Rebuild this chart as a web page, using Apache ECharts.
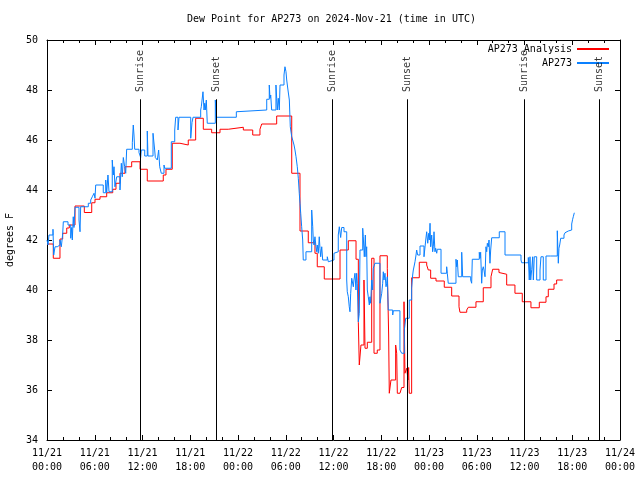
<!DOCTYPE html>
<html><head><meta charset="utf-8">
<script src="https://cdn.jsdelivr.net/npm/echarts@6/dist/echarts.min.js"></script>
<style>html,body{margin:0;padding:0;background:#fff}#c{width:640px;height:480px}</style>
</head><body><div id="c"></div>
<script>
// hours since 2024-11-21 00:00 UTC
const xTickLabels = ['11/21\n00:00','11/21\n06:00','11/21\n12:00','11/21\n18:00','11/22\n00:00','11/22\n06:00','11/22\n12:00','11/22\n18:00','11/23\n00:00','11/23\n06:00','11/23\n12:00','11/23\n18:00','11/24\n00:00'];
const sunEventHours = [11.69, 21.24, 35.85, 45.27, 59.97, 69.36];
const sunEventNames = ['Sunrise','Sunset','Sunrise','Sunset','Sunrise','Sunset'];

const analysisHours = [0.00,0.79,1.63,1.97,2.48,2.80,3.52,4.69,5.62,6.03,6.66,7.50,8.26,8.67,9.17,9.80,10.64,11.69,12.60,14.61,14.95,15.74,16.71,17.75,18.68,19.64,20.69,21.74,22.78,24.67,25.85,26.76,26.98,28.86,30.75,31.79,32.83,33.67,33.96,34.84,36.82,37.86,38.83,39.12,39.24,39.45,39.83,39.96,40.25,40.80,41.09,41.50,41.84,42.76,42.93,43.01,43.22,43.81,43.94,44.02,44.35,44.57,44.86,44.98,45.20,45.36,45.44,45.52,45.82,46.78,47.71,47.91,48.21,48.88,49.92,50.85,51.77,51.89,52.74,52.94,53.90,54.82,55.79,56.00,56.79,56.92,57.76,58.80,59.72,60.81,61.86,62.70,62.99,63.71,64.04,64.80];
const analysisValues = [41.84,41.27,42.04,42.27,42.48,42.6,43.36,43.1,43.49,43.63,43.73,43.89,44.03,44.27,44.67,44.93,45.13,44.83,44.36,44.6,44.83,45.87,45.8,46.0,46.87,46.43,46.29,46.43,46.51,46.4,46.2,46.43,46.64,46.96,44.67,42.36,41.89,41.47,40.93,40.44,41.6,41.97,41.23,38.69,37.0,37.8,40.4,37.67,37.91,41.27,37.47,37.6,41.37,40.87,38.2,35.87,36.4,37.8,37.47,35.87,35.93,36.1,39.53,36.67,36.87,36.4,36.9,35.87,40.49,41.11,41.0,40.8,40.47,40.36,40.11,39.76,39.33,39.11,39.2,39.31,39.53,40.09,40.53,40.83,40.7,40.63,40.2,39.87,39.53,39.29,39.51,39.73,40.03,40.24,40.4,40.4];

const stationHours = [0.00,0.13,0.25,0.75,0.84,1.01,1.29,1.63,1.80,1.97,2.05,2.64,2.98,3.10,3.18,3.30,3.39,3.52,4.02,4.15,4.23,5.19,5.49,5.69,5.91,6.03,6.12,7.07,7.38,7.50,7.66,7.79,8.20,8.33,8.42,8.54,8.76,9.17,9.34,9.46,9.59,9.76,9.89,10.01,10.72,10.84,10.93,11.02,11.56,11.77,11.85,12.28,12.60,12.69,13.32,13.53,13.61,13.86,14.03,14.16,14.36,14.70,14.79,15.62,16.05,16.17,16.46,16.59,18.06,18.22,18.35,19.31,19.39,19.60,19.73,19.82,19.89,20.02,20.14,21.15,21.27,23.79,24.00,27.61,27.93,28.02,28.11,28.23,28.77,28.86,28.94,29.06,29.19,29.28,29.78,29.90,30.03,30.12,30.28,30.45,30.57,30.75,30.87,31.04,31.16,31.29,31.45,31.58,31.70,31.79,31.88,32.00,32.13,32.20,32.54,33.26,33.39,33.46,33.55,33.67,33.80,33.89,33.96,34.09,34.21,34.30,34.39,34.52,34.64,35.22,35.35,35.56,36.06,36.19,36.60,36.73,36.90,37.03,37.32,37.66,37.73,37.86,37.98,38.07,38.16,38.29,38.49,38.57,38.70,38.82,38.91,38.99,39.12,39.24,39.33,39.67,39.74,39.87,40.00,40.08,40.17,40.25,40.37,40.50,40.58,40.67,40.80,40.92,41.00,41.21,41.84,42.06,42.18,42.26,42.34,42.47,42.60,42.68,42.76,42.88,43.44,43.51,44.35,44.57,44.90,45.07,45.52,45.82,45.95,46.03,46.16,46.24,46.37,46.45,46.58,46.87,47.37,47.46,47.59,47.71,47.84,47.97,48.04,48.13,48.21,48.34,48.46,48.54,48.63,48.75,48.84,48.97,49.04,49.51,50.22,50.30,50.42,51.39,51.48,51.56,51.68,52.11,52.23,53.24,53.36,53.44,54.32,54.41,54.49,54.62,54.70,54.82,54.91,55.04,55.16,55.25,55.33,55.45,55.54,55.66,55.75,55.88,56.83,57.55,59.56,59.65,60.48,60.60,60.69,60.78,60.91,61.03,61.11,61.23,61.53,61.95,62.07,62.36,62.70,63.29,63.42,64.12,64.25,64.33,64.42,64.55,64.96,65.09,65.30,65.50,65.93,66.05,66.13,66.26,66.34];
const stationValues = [42.0,41.8,42.2,42.43,41.4,41.73,41.8,42.0,41.73,42.24,42.73,42.6,42.07,42.5,42.0,42.93,42.5,43.31,42.8,42.33,43.33,43.47,43.6,43.73,43.87,43.67,44.2,43.89,44.4,43.89,44.6,43.93,45.2,44.6,44.93,44.13,44.53,44.0,45.07,44.53,45.3,44.93,44.67,45.63,45.89,46.6,46.2,45.63,45.5,45.3,45.6,45.36,46.36,45.36,46.27,45.6,45.3,45.2,45.6,44.93,44.67,45.0,44.87,45.93,46.4,46.91,46.4,46.91,46.07,46.7,46.91,47.2,47.33,47.93,47.2,47.47,47.2,47.6,46.67,47.6,46.91,47.13,47.2,47.63,48.2,47.67,47.8,47.2,48.2,47.67,47.2,47.67,47.2,48.2,48.6,48.93,48.73,48.4,48.0,47.6,46.53,46.13,46.0,45.8,45.6,45.33,44.93,44.47,43.87,43.47,43.07,42.53,42.0,41.2,41.53,43.2,42.53,42.0,41.8,42.13,41.73,41.53,41.8,41.47,42.13,41.67,41.33,41.73,41.2,41.33,41.13,41.2,41.47,41.53,42.2,42.53,42.1,42.5,42.33,40.4,39.93,39.73,39.33,39.13,39.87,40.47,40.13,40.4,40.67,40.0,40.67,40.27,38.73,39.07,41.6,42.47,42.13,41.33,42.2,41.33,41.73,40.0,39.73,39.4,39.73,39.47,40.4,40.0,40.87,41.07,39.47,39.87,40.27,40.73,40.4,40.67,40.13,40.27,40.53,39.2,39.0,39.17,37.6,37.47,38.4,38.87,39.6,40.07,40.6,40.8,41.0,41.13,41.4,41.6,41.4,41.76,41.33,41.6,42.0,42.33,41.87,42.27,42.0,42.67,41.73,42.2,41.53,41.73,42.33,41.53,41.67,41.47,41.63,40.67,40.93,40.67,40.27,41.23,40.93,41.2,40.53,41.51,40.53,40.4,40.27,41.23,41.51,41.27,41.51,40.27,40.8,40.93,40.8,40.53,41.73,41.53,41.87,41.73,42.0,41.07,41.6,42.09,42.33,41.4,41.2,41.09,41.3,40.4,41.33,40.4,40.83,41.33,40.4,41.33,40.4,40.8,41.33,40.4,41.36,41.4,41.36,42.37,41.07,41.67,41.8,42.07,42.2,42.29,42.36,42.4,42.64,42.83,42.93,43.09,43.09];

const FONT = 'DejaVu Sans Mono';
const txt = {fontFamily: FONT, fontSize: 10, color: '#000'};
const zip = (a, b) => a.map((h, i) => [h, b[i]]);

const chart = echarts.init(document.getElementById('c'), null, {renderer: 'canvas'});

function xAxisDef(pos, labels) {
  return {
    type: 'value', min: 0, max: 72, interval: 6, position: pos,
    axisLine: {show: true, onZero: false, lineStyle: {color: '#000', width: 1}},
    axisTick: {show: true, inside: true, length: 5, lineStyle: {color: '#000'}},
    minorTick: {show: true, splitNumber: 3, length: 3, lineStyle: {color: '#000'}},
    splitLine: {show: false},
    axisLabel: labels ? Object.assign({show: true, margin: 6, lineHeight: 14,
      formatter: v => xTickLabels[Math.round(v / 6)]}, txt) : {show: false}
  };
}
function yAxisDef(pos, labels) {
  const a = {
    type: 'value', min: 34, max: 50, interval: 2, position: pos,
    axisLine: {show: true, onZero: false, lineStyle: {color: '#000', width: 1}},
    axisTick: {show: true, inside: true, length: 5, lineStyle: {color: '#000'}},
    splitLine: {show: false},
    axisLabel: labels ? Object.assign({show: true, margin: 9}, txt) : {show: false}
  };
  if (labels) {
    a.name = 'degrees F'; a.nameLocation = 'middle'; a.nameGap = 32; a.nameRotate = 90;
    a.nameTextStyle = Object.assign({}, txt);
  }
  return a;
}

const legendCommon = {
  orient: 'vertical', right: 30, align: 'right', itemWidth: 32, itemHeight: 10,
  itemGap: 4, padding: 0, textStyle: Object.assign({}, txt), selectedMode: false,
  itemStyle: {opacity: 0}
};

chart.setOption({
  animation: false,
  backgroundColor: '#fff',
  title: {text: 'Dew Point for AP273 on 2024-Nov-21 (time in UTC)', left: 187, top: 14, padding: 0,
    textStyle: Object.assign({fontWeight: 'normal'}, txt)},
  legend: [
    Object.assign({data: ['AP273 Analysis'], top: 44}, legendCommon),
    Object.assign({data: ['AP273'], top: 58}, legendCommon)
  ],
  grid: {left: 47, right: 20, top: 40, bottom: 40, containLabel: false, outerBoundsMode: 'none'},
  xAxis: [xAxisDef('bottom', true), xAxisDef('top', false)],
  yAxis: [yAxisDef('left', true), yAxisDef('right', false)],
  series: [
    {name: 'AP273 Analysis', type: 'line', step: 'end', data: zip(analysisHours, analysisValues),
      symbol: 'none', lineStyle: {color: '#ff0000', width: 1}, itemStyle: {color: '#ff0000'}, z: 2},
    {name: 'AP273', type: 'line', step: 'end', data: zip(stationHours, stationValues),
      symbol: 'none', lineStyle: {color: '#0a80ff', width: 1}, itemStyle: {color: '#0a80ff'}, z: 3},
    {type: 'scatter', silent: true, z: 4,
      data: sunEventHours.map((h, i) => ({value: [h, 47.92], name: sunEventNames[i]})),
      symbolSize: 1, itemStyle: {color: 'rgba(0,0,0,0)'},
      label: Object.assign({show: true, position: 'inside', rotate: 90, align: 'left',
        verticalAlign: 'middle', formatter: p => p.name}, txt),
      markLine: {silent: true, symbol: ['none', 'none'], animation: false,
        label: {show: false},
        lineStyle: {color: '#000', width: 1, type: 'solid'},
        data: sunEventHours.map(h => [{coord: [h, 47.63]}, {coord: [h, 34]}])}
    }
  ]
});
</script></body></html>
